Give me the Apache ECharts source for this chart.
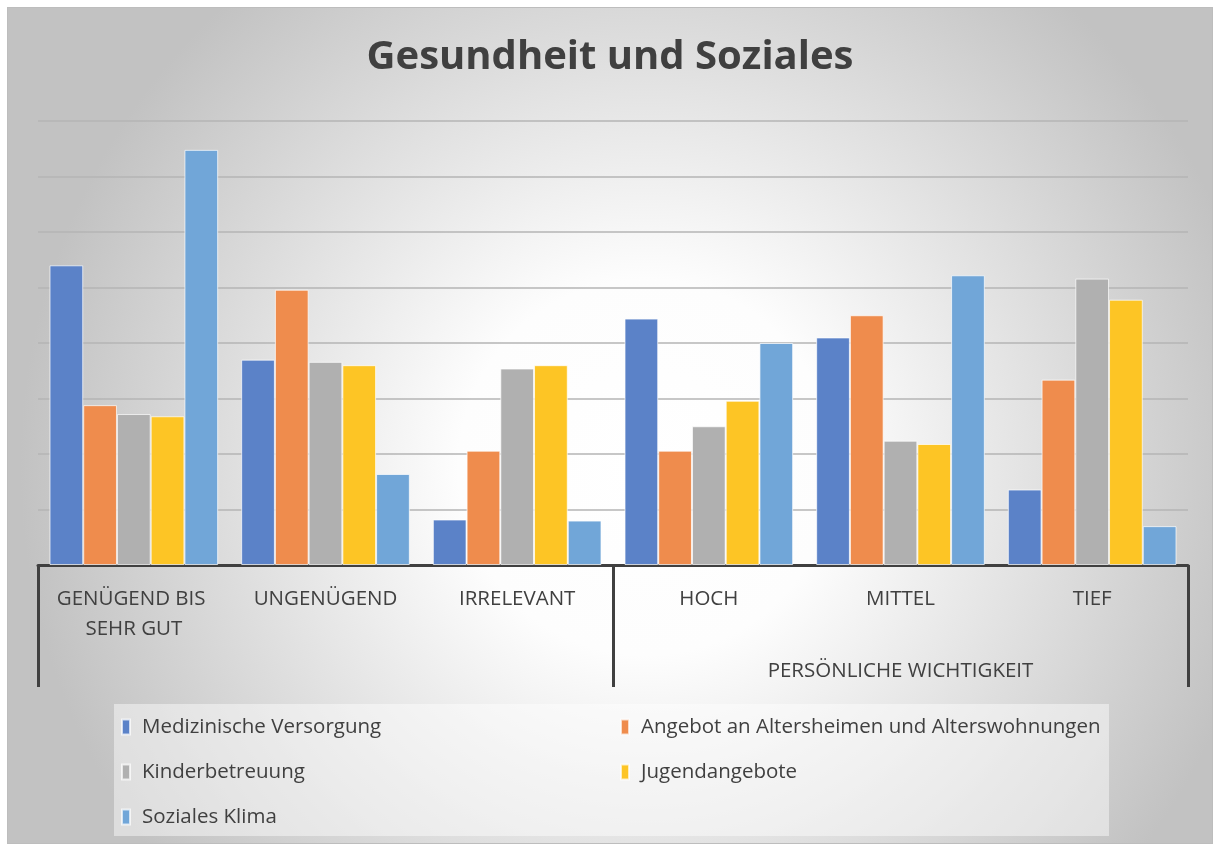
<!DOCTYPE html>
<html>
<head>
<meta charset="utf-8">
<script src="https://cdn.jsdelivr.net/npm/echarts@6/dist/echarts.min.js"></script>
<style>
  html, body { margin: 0; padding: 0; background: #fff; }
  #chart {
    position: absolute;
    left: 7px;
    top: 7px;
    width: 1204px;
    height: 835px;
    border: 1px solid #bdbdbd;
  }
</style>
</head>
<body>
<div id="chart"></div>
<script>
// Kategorien (erste Ebene) und Gruppen (zweite Ebene)
const categories = ['GENÜGEND BIS SEHR GUT', 'UNGENÜGEND', 'IRRELEVANT', 'HOCH', 'MITTEL', 'TIEF'];
const groups = ['', 'PERSÖNLICHE WICHTIGKEIT'];

// Werte (Gitterabstand = 5)
const medizinische = [27.0, 18.5, 4.1, 22.2, 20.5, 6.8];
const altersheime = [14.4, 24.8, 10.3, 10.3, 22.5, 16.7];
const kinderbetreuung = [13.6, 18.3, 17.7, 12.5, 11.2, 25.8];
const jugend = [13.4, 18.0, 18.0, 14.8, 10.9, 23.9];
const sozialesKlima = [37.4, 8.2, 4.0, 20.0, 26.1, 3.5];

const colors = ['#5b82c8', '#ef8c4d', '#b0b0b0', '#fdc525', '#71a6d8'];

const chart = echarts.init(document.getElementById('chart'));

function bar(name, data) {
  return {
    name: name,
    type: 'bar',
    data: data,
    barGap: '0%',
    barCategoryGap: '12%',
    itemStyle: { borderColor: 'rgba(255,255,255,0.7)', borderWidth: 1 }
  };
}

const legendText = { fontFamily: 'Open Sans', fontSize: 20.5, color: '#404040', lineHeight: 24, padding: [0, 0, 0, 7] };

chart.setOption({
  backgroundColor: {
    type: 'radial',
    x: 0.53, y: 0.55, r: 0.75,
    colorStops: [
      { offset: 0, color: '#ffffff' },
      { offset: 0.3, color: '#fdfdfd' },
      { offset: 1, color: '#c2c2c2' }
    ]
  },
  color: colors,
  title: {
    text: 'Gesundheit und Soziales',
    left: 'center',
    top: 25,
    textStyle: { fontFamily: 'Open Sans', fontSize: 40, fontWeight: 'bold', color: '#404040' }
  },
  grid: { left: 30, right: 24, top: 113, bottom: 278 },
  legend: [
    {
      data: ['Medizinische Versorgung', 'Kinderbetreuung', 'Soziales Klima'],
      orient: 'vertical',
      left: 108,
      top: 702,
      itemWidth: 8,
      itemHeight: 15,
      itemGap: 21,
      icon: 'rect',
      textStyle: legendText
    },
    {
      data: ['Angebot an Altersheimen und Alterswohnungen', 'Jugendangebote'],
      orient: 'vertical',
      left: 607,
      top: 702,
      itemWidth: 8,
      itemHeight: 15,
      itemGap: 21,
      icon: 'rect',
      textStyle: legendText
    }
  ],
  graphic: [
    {
      type: 'rect',
      left: 106,
      top: 696,
      shape: { width: 995, height: 132 },
      style: { fill: 'rgba(255,255,255,0.45)' },
      z: -1
    }
  ],
  xAxis: [
    {
      type: 'category',
      data: categories,
      axisLine: { lineStyle: { color: '#404040', width: 3 } },
      axisTick: { show: false },
      axisLabel: {
        interval: 0,
        margin: 19,
        width: 170,
        overflow: 'break',
        lineHeight: 30,
        fontFamily: 'Open Sans',
        fontSize: 20.5,
        color: '#404040'
      }
    },
    {
      type: 'category',
      data: groups,
      position: 'bottom',
      axisLine: { show: false },
      axisTick: { show: true, length: 122, lineStyle: { color: '#404040', width: 3 } },
      axisLabel: {
        interval: 0,
        margin: 96,
        fontFamily: 'Open Sans',
        fontSize: 20.5,
        color: '#404040'
      }
    }
  ],
  yAxis: {
    type: 'value',
    min: 0,
    max: 40,
    interval: 5,
    axisLabel: { show: false },
    axisLine: { show: false },
    axisTick: { show: false },
    splitLine: { lineStyle: { color: '#b5b5b5', width: 1.5 } }
  },
  series: [
    bar('Medizinische Versorgung', medizinische),
    bar('Angebot an Altersheimen und Alterswohnungen', altersheime),
    bar('Kinderbetreuung', kinderbetreuung),
    bar('Jugendangebote', jugend),
    bar('Soziales Klima', sozialesKlima)
  ]
});
</script>
</body>
</html>
